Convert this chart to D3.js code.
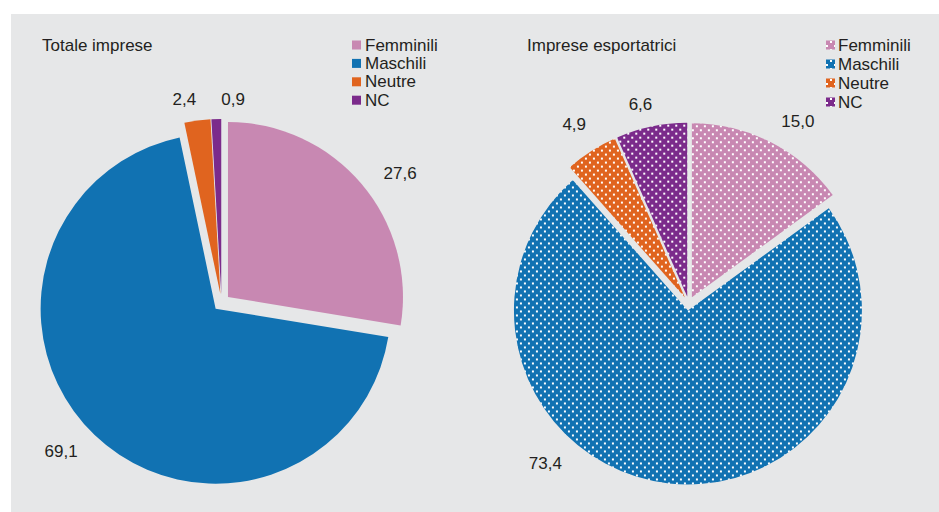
<!DOCTYPE html>
<html>
<head>
<meta charset="utf-8">
<script src="https://cdn.jsdelivr.net/npm/d3@7"></script>
<style>
  body { margin: 0; background: #fff; }
  text { font-family: "Liberation Sans", Arial, sans-serif; fill: #231f20; }
</style>
</head>
<body>
<div id="chart"></div>
<script>
// data
const categories = ["Femminili", "Maschili", "Neutre", "NC"];
const totaleValues = [27.6, 69.1, 2.4, 0.9];
const esportValues = [15.0, 73.4, 4.9, 6.6];
const titles = ["Totale imprese", "Imprese esportatrici"];

const colors = ["#c888b2", "#1172b2", "#e0641f", "#7b2b8b"];

const width = 939, height = 512;

const svg = d3.select("#chart")
    .append("svg")
    .attr("width", width)
    .attr("height", height);

// grey panel
svg.append("rect")
    .attr("x", 11).attr("y", 14)
    .attr("width", width - 11).attr("height", height - 14)
    .attr("fill", "#e6e7e8");

// dotted patterns for the second pie
const defs = svg.append("defs");
colors.forEach((c, i) => {
    const p = defs.append("pattern")
        .attr("id", "dots" + i)
        .attr("patternUnits", "userSpaceOnUse")
        .attr("width", 8).attr("height", 8);
    p.append("rect").attr("width", 8).attr("height", 8).attr("fill", c);
    p.append("rect").attr("x", 0).attr("y", 0).attr("width", 2).attr("height", 2).attr("fill", "#fff");
    p.append("rect").attr("x", 4).attr("y", 4).attr("width", 2).attr("height", 2).attr("fill", "#fff");
});

const itFormat = d3.formatLocale({decimal: ",", thousands: ".", grouping: [3], currency: ["", "€"]}).format(".1f");

const pie = d3.pie().sort(null).value(d => d);

// layout for each pie
const panels = [
    {values: totaleValues, title: titles[0], cx: 221.5, cy: 302.5, r: 175, explode: 8.5,
     titleX: 42, legendX: 352, legendStep: 18.4, patterned: false,
     nudge: [4.5, 3.4, -2.8, 4.9]},
    {values: esportValues, title: titles[1], cx: 688.7, cy: 303.5, r: 174, explode: 7,
     titleX: 527, legendX: 826, legendStep: 19, patterned: true,
     nudge: [4, 35.5, 0, -1.7]}
];

panels.forEach(pd => {
    const g = svg.append("g");

    g.append("text")
        .attr("x", pd.titleX).attr("y", 51)
        .style("font-size", "17px")
        .text(pd.title);

    const arc = d3.arc().innerRadius(0).outerRadius(pd.r);
    const arcs = pie(pd.values);

    const pieG = g.append("g").attr("transform", `translate(${pd.cx},${pd.cy})`);

    pieG.selectAll("path")
        .data(arcs)
        .join("path")
        .attr("d", arc)
        .attr("transform", d => {
            const a = (d.startAngle + d.endAngle) / 2;
            return `translate(${Math.sin(a) * pd.explode},${-Math.cos(a) * pd.explode})`;
        })
        .attr("fill", (d, i) => pd.patterned ? `url(#dots${i})` : colors[i]);

    // value labels outside end
    const lw = 34, lh = 16;
    const labelPos = (d, i) => {
        const a = (d.startAngle + d.endAngle) / 2 + pd.nudge[i] * Math.PI / 180;
        const rr = pd.r + pd.explode + 10 + Math.abs(Math.sin(a)) * lw * 0.8 + Math.abs(Math.cos(a)) * lh * 0.5;
        return [Math.sin(a) * rr, -Math.cos(a) * rr];
    };
    pieG.selectAll("text.val")
        .data(arcs)
        .join("text")
        .attr("class", "val")
        .attr("text-anchor", "middle")
        .attr("dominant-baseline", "central")
        .style("font-size", "17px")
        .attr("x", (d, i) => labelPos(d, i)[0])
        .attr("y", (d, i) => labelPos(d, i)[1])
        .text(d => itFormat(d.data));

    // legend
    const leg = g.append("g").attr("transform", `translate(${pd.legendX},45)`);
    const rows = leg.selectAll("g")
        .data(categories)
        .join("g")
        .attr("transform", (d, i) => `translate(0,${i * pd.legendStep})`);
    rows.append("rect")
        .attr("x", 0).attr("y", -4.5)
        .attr("width", 9).attr("height", 9)
        .attr("fill", (d, i) => pd.patterned ? `url(#dots${i})` : colors[i]);
    rows.append("text")
        .attr("x", pd.patterned ? 12 : 13).attr("y", 0)
        .attr("dominant-baseline", "central")
        .style("font-size", "17px")
        .text(d => d);
});
</script>
</body>
</html>
